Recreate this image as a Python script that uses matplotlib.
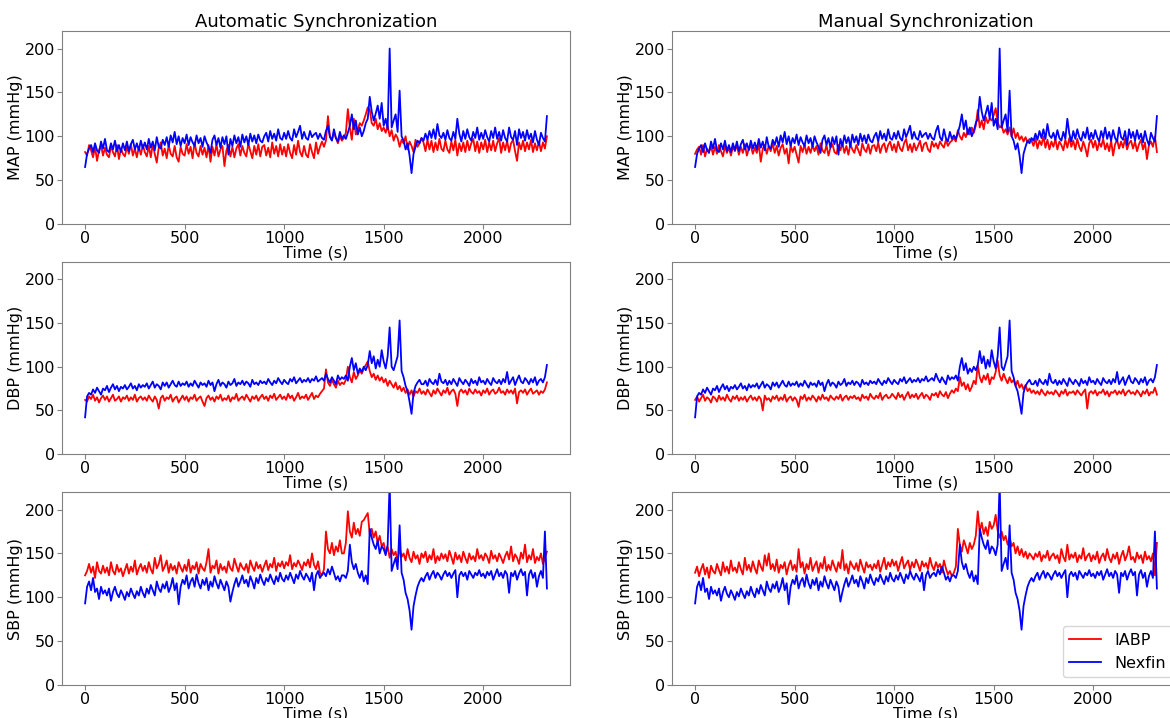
import numpy as np
import matplotlib
matplotlib.use("Agg")
import matplotlib.pyplot as plt

# samples every 10 s (0 .. 2320 s)
STEP = 10

nexfin_map = [
    65, 80, 86, 90, 82, 92, 84, 81, 94, 86,
    97, 84, 82, 92, 85, 95, 83, 90, 82, 92,
    84, 94, 83, 91, 96, 85, 92, 84, 95, 86,
    93, 85, 97, 87, 94, 84, 99, 88, 86, 96,
    90, 99, 88, 101, 93, 105, 91, 100, 89, 98,
    92, 102, 90, 99, 93, 89, 101, 92, 98, 88,
    100, 93, 88, 81, 96, 101, 90, 98, 87, 99,
    91, 100, 79, 97, 89, 101, 92, 99, 88, 102,
    93, 100, 90, 103, 94, 101, 92, 102, 95, 93,
    100, 104, 94, 106, 97, 103, 95, 108, 98, 96,
    104, 97, 106, 98, 95, 108, 99, 105, 112, 97,
    105, 98, 96, 106, 99, 102, 104, 97, 103, 98,
    96, 106, 112, 99, 95, 108, 98, 94, 105, 97,
    101, 97, 104, 112, 125, 108, 118, 102, 110, 100,
    106, 115, 120, 145, 128, 118, 126, 135, 120, 138,
    112, 120, 108, 200, 110, 118, 125, 105, 152, 100,
    95, 85, 92, 78, 58, 80, 88, 95, 92, 98,
    95, 103, 96, 106, 98, 108, 97, 114, 101, 98,
    104, 96, 107, 98, 95, 105, 97, 120, 103, 94,
    106, 97, 108, 99, 95, 105, 98, 110, 96, 104,
    97, 107, 99, 94, 106, 98, 110, 97, 105, 95,
    107, 98, 94, 110, 99, 96, 106, 90, 108, 98,
    105, 95, 107, 97, 103, 93, 106, 96, 90, 104,
    98, 94, 123,
]

nexfin_dbp = [
    42, 66, 70, 68, 74, 70, 76, 72, 68, 75,
    73, 78, 71, 76, 80, 74, 78, 72, 77, 75,
    79, 74, 77, 81, 75, 78, 73, 80, 76, 79,
    77, 81, 75, 79, 83, 76, 80, 78, 74, 82,
    78, 82, 76, 80, 84, 79, 77, 83, 78, 81,
    79, 83, 77, 81, 78, 84, 80, 76, 82, 79,
    81, 77, 84, 79, 82, 72, 80, 85, 78, 82,
    80, 76, 83, 79, 81, 86, 78, 82, 80, 84,
    79, 83, 81, 77, 85, 80, 82, 79, 84, 81,
    83, 80, 86, 82, 79, 84, 81, 87, 83, 80,
    85, 82, 80, 86, 83, 88, 81, 84, 87, 82,
    85, 83, 87, 82, 86, 84, 89, 83, 85, 87,
    84, 92, 86, 82, 88, 84, 80, 90, 85, 88,
    86, 90, 84, 100, 110, 96, 104, 92, 98, 94,
    100, 96, 102, 118, 104, 112, 98, 108, 100, 119,
    106, 98, 112, 145, 100, 96, 104, 112, 153, 95,
    88, 78, 72, 60, 46, 70, 78, 82, 85, 80,
    80, 84, 78, 86, 82, 80, 85, 79, 92, 83,
    81, 85, 79, 84, 80, 86, 82, 78, 87, 83,
    80, 85, 82, 78, 86, 81, 84, 79, 88, 82,
    84, 80, 86, 82, 79, 87, 83, 81, 85, 80,
    86, 82, 94, 80, 84, 88, 79, 85, 90, 83,
    81, 87, 84, 80, 86, 82, 88, 79, 84, 86,
    82, 88, 102,
]

nexfin_sbp = [
    93, 112, 118, 108, 122, 106, 110, 98, 112, 104,
    108, 102, 110, 96, 106, 112, 104, 100, 108, 103,
    97, 106, 101, 110, 104, 99, 107, 102, 112, 105,
    100, 110, 104, 114, 108, 102, 118, 110, 106, 115,
    110, 118, 106, 112, 122, 108, 116, 92, 112, 120,
    115, 125, 110, 118, 122, 112, 126, 116, 110, 120,
    114, 122, 108, 118, 112, 124, 116, 110, 120, 114,
    108, 118, 112, 95, 106, 115, 122, 112, 118, 125,
    116, 120, 112, 124, 118, 110, 122, 116, 126, 119,
    114, 122, 118, 126, 120, 115, 124, 118, 128, 121,
    118, 125, 120, 128, 122, 116, 126, 121, 130, 124,
    120, 127, 123, 118, 128, 108, 125, 130, 122, 126,
    128, 124, 132, 126, 135, 128, 120, 124, 118, 125,
    125, 122, 130, 160, 140, 132, 138, 128, 122, 130,
    118, 125, 115, 178, 168, 160, 155, 165, 150, 158,
    155, 148, 160, 230, 130, 138, 145, 132, 182, 128,
    120, 105, 98, 85, 63, 90, 102, 112, 118, 122,
    118, 124, 128, 120, 126, 130, 122, 128, 125, 120,
    126, 130, 124, 128, 122, 127, 131, 100, 125, 129,
    124, 128, 120, 130, 126, 122, 128, 125, 131, 124,
    127, 122, 129, 125, 130, 120, 126, 132, 124, 128,
    122, 130, 126, 105, 128, 124, 130, 120, 127, 132,
    125, 129, 102, 126, 131, 122, 128, 112, 124, 130,
    122, 175, 110,
]

# IABP, automatic synchronization
iabp_map_auto = [
    82, 78, 90, 84, 76, 88, 72, 84, 90, 78,
    87, 79, 76, 89, 82, 77, 90, 74, 86, 80,
    77, 88, 80, 91, 78, 86, 76, 88, 79, 90,
    82, 77, 89, 76, 91, 80, 70, 87, 93, 78,
    86, 75, 90, 80, 77, 89, 76, 71, 88, 80,
    78, 91, 80, 88, 75, 93, 81, 77, 89, 79,
    87, 76, 90, 71, 88, 78, 91, 77, 85, 89,
    66, 84, 90, 77, 88, 76, 86, 91, 78, 89,
    81, 77, 92, 83, 75, 89, 79, 91, 77, 88,
    90, 78, 87, 76, 93, 80, 89, 77, 91, 79,
    88, 77, 91, 81, 75, 90, 79, 95, 82, 77,
    89, 79, 76, 91, 82, 75, 93, 80, 88, 94,
    88, 95, 123, 100, 96, 104, 98, 92, 100, 95,
    98, 104, 131, 110, 96, 120, 102, 108, 115, 112,
    118, 125, 133, 130, 115, 112, 120, 108, 115, 106,
    110, 104, 112, 100, 107, 95, 102, 98, 88, 96,
    92, 100, 85, 94, 89, 82, 96, 88, 92, 98,
    93, 83, 96, 85, 95, 82, 93, 84, 97, 86,
    83, 95, 85, 81, 94, 84, 96, 78, 92, 83,
    93, 82, 95, 84, 92, 97, 83, 94, 81, 93,
    85, 96, 82, 93, 84, 95, 83, 92, 98, 81,
    93, 84, 95, 82, 92, 96, 83, 72, 93, 85,
    95, 83, 93, 85, 96, 82, 92, 84, 94, 83,
    93, 86, 100,
]

iabp_dbp_auto = [
    62, 60, 66, 63, 68, 61, 65, 59, 64, 67,
    62, 66, 60, 64, 68, 61, 63, 66, 60, 65,
    63, 67, 61, 65, 62, 68, 60, 64, 66, 62,
    65, 61, 67, 63, 60, 66, 62, 52, 64, 67,
    61, 65, 63, 68, 60, 64, 66, 59, 63, 67,
    62, 66, 60, 65, 63, 68, 61, 64, 66, 60,
    55, 64, 67, 62, 65, 60, 66, 63, 68, 61,
    64, 62, 67, 60, 65, 63, 69, 61, 64, 66,
    62, 68, 64, 60, 66, 63, 67, 61, 65, 68,
    63, 66, 61, 67, 64, 69, 62, 65, 68, 63,
    66, 62, 69, 64, 67, 61, 65, 70, 63, 66,
    64, 68, 62, 66, 70, 63, 67, 65, 69, 72,
    75, 97, 82, 78, 85, 80, 76, 84, 79, 82,
    80, 85, 100, 88, 82, 94, 86, 90, 96, 92,
    98, 102, 106, 95, 88, 92, 85, 90, 84, 88,
    82, 86, 78, 84, 80, 76, 82, 74, 78, 72,
    76, 70, 74, 68, 73, 66, 72, 70, 75, 69,
    72, 68, 74, 70, 66, 73, 69, 75, 71, 67,
    73, 70, 76, 68, 72, 74, 69, 55, 71, 74,
    70, 73, 68, 75, 71, 69, 74, 70, 72, 67,
    73, 70, 75, 68, 72, 74, 69, 71, 76, 70,
    72, 68, 74, 70, 73, 69, 75, 58, 71, 73,
    70, 74, 68, 72, 75, 69, 71, 73, 68, 72,
    70, 74, 82,
]

iabp_sbp_auto = [
    125, 130, 138, 128, 135, 122, 140, 130, 127, 136,
    128, 134, 125, 140, 130, 126, 137, 129, 133, 124,
    131, 138, 127, 135, 129, 142, 126, 133, 138, 130,
    136, 128, 140, 132, 127, 145, 133, 138, 148, 130,
    135, 142, 128, 138, 131, 136, 127, 140, 134, 129,
    137, 130, 143, 128, 136, 132, 140, 127, 138, 133,
    130, 140, 155, 128, 136, 133, 142, 127, 138, 131,
    135, 128, 141, 133, 130, 144, 136, 129, 139, 134,
    131, 138, 128, 142, 135, 130, 140, 133, 137, 129,
    136, 142, 131, 138, 134, 145, 130, 139, 135, 141,
    133, 140, 136, 148, 132, 139, 135, 142, 137, 131,
    140, 136, 143, 134, 150, 137, 132, 141, 128, 125,
    132, 175, 155, 150, 162, 148, 158, 152, 165, 150,
    150, 162, 198, 175, 168, 185, 172, 178, 170, 186,
    188, 192, 196, 172, 178, 168, 175, 162, 170, 158,
    162, 150, 158, 145, 155, 148, 152, 140, 156, 146,
    150, 142, 155, 145, 140, 152, 144, 148, 138, 150,
    145, 152, 140, 148, 143, 155, 139, 147, 142, 150,
    144, 149, 141, 153, 146, 138, 151, 143, 148, 140,
    152, 145, 139, 150, 143, 147, 141, 155, 144, 148,
    142, 150, 146, 139, 153, 144, 148, 141, 150, 145,
    139, 147, 152, 143, 158, 141, 149, 145, 138, 151,
    144, 160, 140, 148, 143, 155, 139, 146, 142, 150,
    138, 145, 152,
]

# IABP, manual synchronization
iabp_map_man = [
    80, 85, 88, 79, 90, 77, 86, 82, 89, 79,
    88, 80, 90, 83, 77, 89, 81, 87, 78, 88,
    83, 90, 79, 88, 81, 91, 78, 86, 89, 80,
    87, 81, 91, 71, 86, 90, 80, 89, 83, 92,
    81, 89, 78, 87, 91, 80, 86, 69, 90, 82,
    88, 79, 70, 89, 82, 91, 80, 88, 81, 90,
    83, 89, 79, 92, 84, 81, 90, 78, 87, 91,
    82, 80, 90, 84, 92, 81, 89, 79, 91, 85,
    81, 90, 84, 78, 92, 85, 82, 91, 80, 89,
    90, 83, 93, 81, 89, 92, 82, 90, 94, 84,
    91, 82, 94, 86, 83, 92, 97, 84, 91, 82,
    92, 84, 89, 95, 83, 91, 93, 85, 82, 94,
    88, 92, 86, 94, 90, 87, 96, 89, 93, 95,
    98, 94, 107, 100, 96, 104, 99, 108, 102, 110,
    104, 112, 130, 110, 118, 108, 122, 115, 120, 118,
    124, 132, 116, 110, 112, 104, 108, 102, 110, 100,
    109, 98, 104, 96, 100, 94, 99, 93, 97, 95,
    89, 98, 86, 95, 90, 100, 87, 96, 85, 94,
    88, 97, 85, 94, 90, 84, 96, 87, 98, 88,
    95, 85, 97, 88, 83, 94, 87, 77, 92, 96,
    87, 95, 84, 93, 88, 97, 85, 92, 83, 95,
    78, 91, 96, 86, 94, 87, 97, 85, 92, 95,
    86, 94, 83, 91, 96, 85, 93, 74, 90, 94,
    88, 100, 82,
]

iabp_dbp_man = [
    62, 66, 60, 64, 68, 61, 65, 63, 59, 66,
    64, 60, 67, 62, 65, 61, 68, 63, 60, 66,
    63, 67, 61, 65, 62, 66, 60, 64, 67, 62,
    65, 61, 66, 63, 50, 67, 62, 64, 60, 66,
    63, 67, 61, 65, 62, 68, 60, 64, 66, 61,
    65, 62, 54, 66, 63, 68, 61, 65, 62, 67,
    64, 60, 66, 62, 68, 63, 65, 61, 67, 64,
    62, 66, 63, 68, 61, 65, 67, 62, 66, 64,
    67, 63, 65, 61, 68, 64, 66, 62, 69, 65,
    63, 67, 64, 70, 62, 66, 68, 64, 65, 69,
    66, 63, 70, 65, 68, 62, 67, 71, 64, 68,
    65, 69, 63, 67, 70, 64, 68, 66, 62, 69,
    67, 70, 65, 72, 68, 66, 71, 64, 69, 73,
    70, 75, 72, 88, 78, 82, 74, 80, 72, 77,
    84, 80, 102, 88, 82, 90, 85, 92, 80, 88,
    86, 94, 107, 90, 84, 92, 86, 81, 88, 82,
    85, 78, 84, 76, 80, 74, 79, 72, 75, 70,
    73, 69, 72, 68, 74, 70, 67, 72, 69, 71,
    68, 73, 70, 66, 72, 69, 74, 67, 71, 70,
    72, 68, 73, 70, 67, 71, 74, 52, 70, 72,
    69, 73, 67, 71, 70, 74, 68, 72, 66, 71,
    70, 73, 68, 72, 69, 74, 67, 71, 73, 69,
    71, 68, 73, 70, 66, 72, 69, 74, 67, 71,
    70, 76, 68,
]

iabp_sbp_man = [
    128, 135, 124, 132, 138, 126, 134, 122, 136, 130,
    127, 138, 131, 125, 140, 129, 135, 127, 142, 130,
    134, 128, 140, 132, 126, 145, 131, 137, 129, 141,
    133, 127, 142, 135, 130, 148, 136, 150, 132, 138,
    130, 143, 128, 137, 133, 140, 126, 136, 142, 131,
    137, 129, 155, 134, 140, 127, 138, 132, 145, 130,
    136, 141, 128, 139, 133, 146, 130, 137, 131, 142,
    135, 129, 140, 133, 154, 131, 138, 127, 141, 136,
    132, 139, 130, 143, 135, 128, 140, 134, 137, 131,
    138, 133, 142, 129, 137, 145, 132, 140, 135, 143,
    136, 141, 130, 139, 146, 133, 138, 142, 131, 140,
    134, 143, 137, 130, 141, 135, 139, 132, 145, 136,
    131, 140, 134, 138, 128, 142, 133, 126, 130, 124,
    128, 135, 178, 160, 152, 165, 158, 150, 162, 155,
    160, 170, 198, 175, 185, 172, 180, 170, 186, 178,
    182, 194, 176, 168, 175, 165, 170, 160, 168, 158,
    162, 150, 158, 148, 155, 146, 152, 144, 150, 147,
    143, 150, 146, 152, 141, 148, 145, 153, 142, 147,
    150, 144, 148, 139, 155, 146, 141, 160, 143, 149,
    145, 151, 140, 148, 144, 156, 142, 147, 150, 141,
    148, 143, 152, 139, 146, 150, 142, 155, 145, 140,
    149, 144, 151, 138, 147, 153, 142, 148, 158, 143,
    146, 140, 151, 144, 148, 139, 152, 143, 147, 141,
    150, 125, 162,
]

col_titles = ["Automatic Synchronization", "Manual Synchronization"]
row_labels = ["MAP (mmHg)", "DBP (mmHg)", "SBP (mmHg)"]
nexfin_rows = [nexfin_map, nexfin_dbp, nexfin_sbp]
iabp_cols = [
    [iabp_map_auto, iabp_dbp_auto, iabp_sbp_auto],
    [iabp_map_man, iabp_dbp_man, iabp_sbp_man],
]


def times(values):
    return np.arange(len(values)) * STEP


W, H = 1170, 718
fig = plt.figure(figsize=(W / 100, H / 100), dpi=100)
fig.patch.set_facecolor("white")

# axes boxes in pixels: (left, right) and (top, bottom)
col_x = [(62, 570), (672, 1180)]
row_y = [(31, 224), (262, 454), (492, 685)]

for c in range(2):
    for r in range(3):
        x0, x1 = col_x[c]
        y0, y1 = row_y[r]
        ax = fig.add_axes([x0 / W, (H - y1) / H, (x1 - x0) / W, (y1 - y0) / H])
        red = iabp_cols[c][r]
        blue = nexfin_rows[r]
        ax.plot(times(red), red, color="red", linewidth=1.3, label="IABP")
        ax.plot(times(blue), blue, color="blue", linewidth=1.3, label="Nexfin")
        ax.set_ylim(0, 220)
        ax.set_xlim(-116, 2436)
        ax.set_xticks([0, 500, 1000, 1500, 2000])
        ax.set_yticks([0, 50, 100, 150, 200])
        ax.set_xlabel("Time (s)", fontsize=11.5, labelpad=0)
        ax.set_ylabel(row_labels[r], fontsize=11.5, labelpad=1)
        ax.tick_params(labelsize=11.5, pad=1.5, color="#808080", length=3.5)
        for sp in ax.spines.values():
            sp.set_color("#808080")
        if r == 0:
            ax.set_title(col_titles[c], fontsize=13, pad=3)
        if c == 1 and r == 2:
            ax.legend(loc="lower right", fontsize=11.5)

fig.savefig("out.png", dpi=100, facecolor="white")
